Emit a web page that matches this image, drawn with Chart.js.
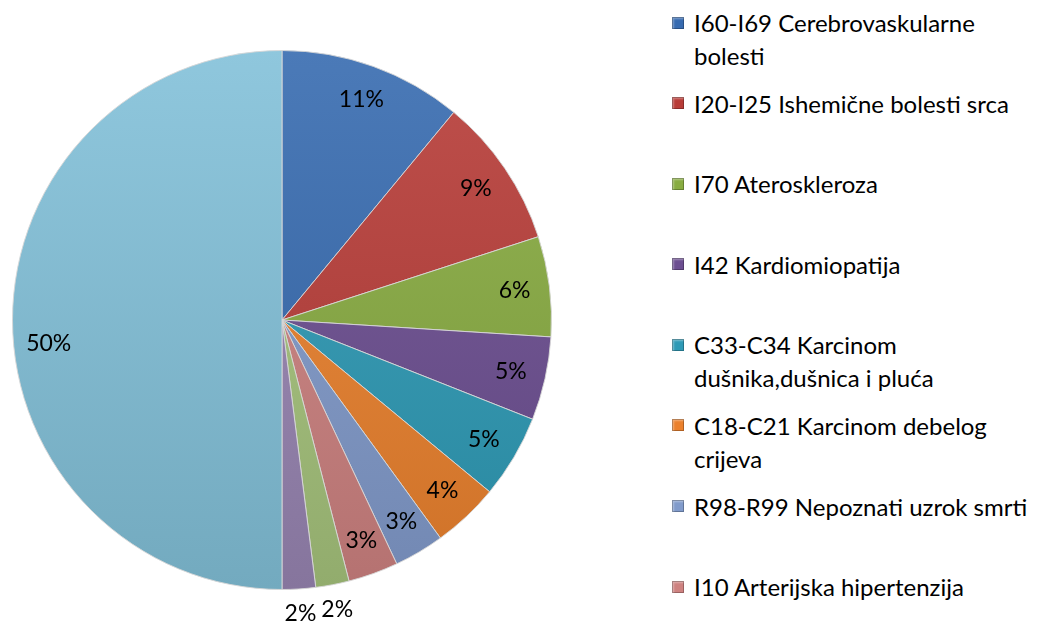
<!DOCTYPE html>
<html lang="hr">
  <head>
    <meta charset="UTF-8" />
    <title>Uzroci smrti</title>
    <script src="https://cdn.jsdelivr.net/npm/chart.js"></script>
    <style>
      body {
        margin: 0;
        background: #fff;
        font-family: Lato, 'Noto Sans', sans-serif;
      }
      #wrap {
        position: relative;
        width: 1038px;
        height: 630px;
      }
      #pie-box {
        position: absolute;
        left: 0;
        top: 0;
        width: 564px;
        height: 630px;
      }
      #legend {
        position: absolute;
        left: 672px;
        top: 6px;
        margin: 0;
        padding: 0;
        list-style: none;
      }
      #legend li {
        height: 80.6px;
        display: flex;
        align-items: flex-start;
        font-size: 24px;
        line-height: 33px;
        color: #000;
      }
      #legend .box {
        width: 12px;
        height: 12px;
        margin-top: 10.5px;
        margin-right: 10px;
        flex: none;
        box-shadow: inset 0 0 0 1px rgba(0, 0, 0, 0.25),
          inset 2px 2px 2px rgba(255, 255, 255, 0.35);
      }
      #legend .txt {
        width: 345px;
      }
    </style>
  </head>
  <body>
    <div id="wrap">
      <div id="pie-box"><canvas id="pie"></canvas></div>
      <ul id="legend"></ul>
    </div>
    <script>
      // causes of death, clockwise from 12 o'clock
      const labels = [
        'I60-I69 Cerebrovaskularne bolesti',
        'I20-I25 Ishemične bolesti srca',
        'I70 Ateroskleroza',
        'I42 Kardiomiopatija',
        'C33-C34 Karcinom dušnika,dušnica i pluća',
        'C18-C21 Karcinom debelog crijeva',
        'R98-R99 Nepoznati uzrok smrti',
        'I10 Arterijska hipertenzija',
        '',
        '',
        ''
      ]
      const values = [11, 9, 6, 5, 5, 4, 3, 3, 2, 2, 50]
      const colors = [
        '#376BB0',
        '#B83C38',
        '#88AC41',
        '#6C4E91',
        '#2E9AB6',
        '#EB812D',
        '#819BCB',
        '#CE8280',
        '#A6C47C',
        '#9885B2',
        '#83C1D9'
      ]
      const legendCount = 8 // only the first 8 fit in the original legend

      // lighten (amt > 0) or darken (amt < 0) a hex colour
      function shade(hex, amt) {
        const n = parseInt(hex.slice(1), 16)
        let r = (n >> 16) & 255
        let g = (n >> 8) & 255
        let b = n & 255
        const f = c =>
          Math.round(amt > 0 ? c + (255 - c) * amt : c * (1 + amt))
        return `rgb(${f(r)}, ${f(g)}, ${f(b)})`
      }

      const total = values.reduce((a, b) => a + b, 0)

      // percentage labels: inside the slice, small slices outside
      const pctLabels = {
        id: 'pctLabels',
        afterDatasetsDraw(chart) {
          const ctx = chart.ctx
          const meta = chart.getDatasetMeta(0)
          ctx.save()
          ctx.font = '23px Lato, "Noto Sans", sans-serif'
          ctx.fillStyle = '#000'
          ctx.textAlign = 'center'
          ctx.textBaseline = 'middle'
          meta.data.forEach((arc, i) => {
            const p = arc.getProps(
              ['x', 'y', 'startAngle', 'endAngle', 'outerRadius'],
              true
            )
            const pct = (values[i] / total) * 100
            let mid = (p.startAngle + p.endAngle) / 2
            if (pct > 40) mid -= 0.1 // big slice label sits a bit low
            const r = pct < 2.5 ? p.outerRadius + 25 : p.outerRadius * 0.87
            ctx.fillText(
              Math.round(pct) + '%',
              p.x + Math.cos(mid) * r,
              p.y + Math.sin(mid) * r
            )
          })
          ctx.restore()
        }
      }

      new Chart(document.getElementById('pie'), {
        type: 'pie',
        data: {
          labels: labels,
          datasets: [
            {
              data: values,
              backgroundColor: c => {
                const base = colors[c.dataIndex]
                const area = c.chart.chartArea
                if (!area) return base
                const g = c.chart.ctx.createLinearGradient(
                  0,
                  area.top,
                  0,
                  area.bottom
                )
                g.addColorStop(0, shade(base, 0.1))
                g.addColorStop(1, shade(base, -0.12))
                return g
              },
              borderColor: 'rgba(215, 215, 215, 0.9)',
              borderWidth: 1
            }
          ]
        },
        options: {
          responsive: true,
          maintainAspectRatio: false,
          animation: false,
          layout: { padding: { top: 50, bottom: 40, left: 12, right: 12 } },
          plugins: {
            legend: { display: false },
            tooltip: { enabled: false }
          }
        },
        plugins: [pctLabels]
      })

      // legend on the right
      const ul = document.getElementById('legend')
      for (let i = 0; i < legendCount; i++) {
        const li = document.createElement('li')
        const box = document.createElement('span')
        box.className = 'box'
        box.style.background = colors[i]
        const txt = document.createElement('span')
        txt.className = 'txt'
        txt.textContent = labels[i]
        li.appendChild(box)
        li.appendChild(txt)
        ul.appendChild(li)
      }
    </script>
  </body>
</html>
